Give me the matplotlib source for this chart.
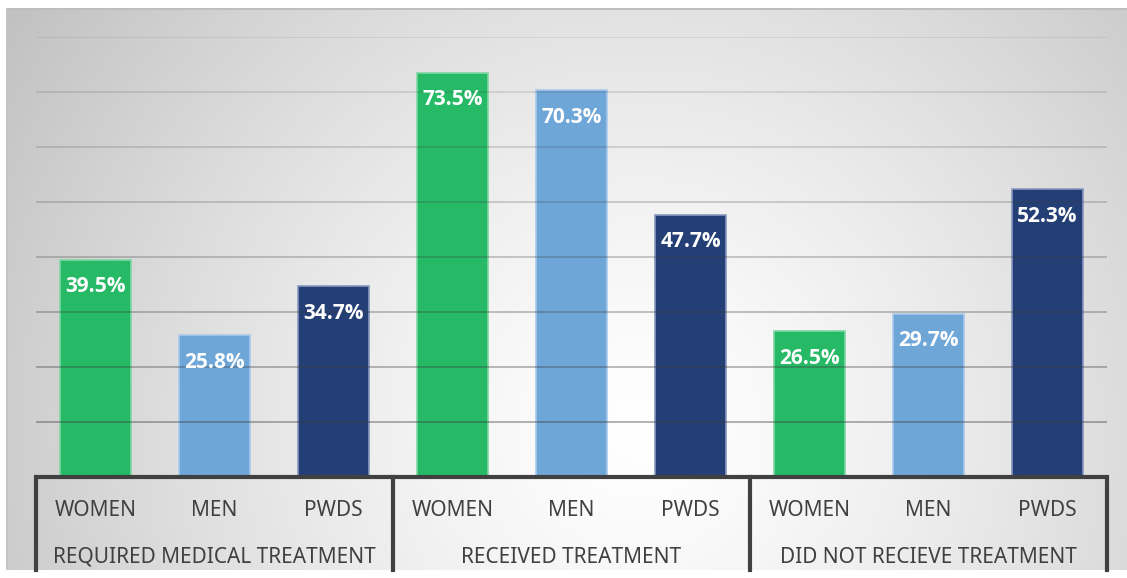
import numpy as np
import matplotlib.pyplot as plt

groups = ["REQUIRED MEDICAL TREATMENT", "RECEIVED TREATMENT", "DID NOT RECIEVE TREATMENT"]
categories = ["WOMEN", "MEN", "PWDS"]
required = [39.5, 25.8, 34.7]
received = [73.5, 70.3, 47.7]
not_received = [26.5, 29.7, 52.3]

colors = ["#26b966", "#6fa6d8", "#243e76"]
edges = ["#7fd6a4", "#a9c9ec", "#8797c0"]

plt.rcParams['font.family'] = ['Noto Sans', 'DejaVu Sans']

W, H = 1127, 578
fig = plt.figure(figsize=(W / 100, H / 100), dpi=100)

# radial grey-to-white backdrop for the chart area
bg = fig.add_axes([6 / W, 8 / H, 1121 / W, 562 / H], zorder=0)
gx, gy = np.meshgrid(np.linspace(6, 1127, 400), np.linspace(8, 570, 200))
r = np.sqrt(((gx - 640) / 720) ** 2 + ((gy - 430) / 720) ** 2)
shade = 255 - 58 * np.clip(r, 0, 1.2) ** 1.3
img = np.clip(shade, 0, 255) / 255
bg.imshow(np.dstack([img, img, img]), aspect='auto', extent=[0, 1, 0, 1], origin='upper')
bg.plot([0, 1], [1, 1], color="#bdbdbd", lw=2, transform=bg.transAxes)
bg.plot([0, 0], [0, 1], color="#c4c4c4", lw=2, transform=bg.transAxes)
bg.set_axis_off()

ax = fig.add_axes([36 / W, 101 / H, 1071 / W, 440 / H], zorder=1)
ax.patch.set_alpha(0)

values = required + received + not_received
x = np.arange(len(values))
for i, v in enumerate(values):
    k = i % 3
    ax.bar(x[i], v, width=0.6, color=colors[k], edgecolor=edges[k], linewidth=1.2, zorder=2)
    ax.annotate(f"{v:.1f}%", (x[i], v), xytext=(0, -19.5), textcoords="offset points",
                ha="center", va="center", color="white", fontsize=15, fontweight="bold",
                family=["Open Sans", "DejaVu Sans"], zorder=4)

ax.set_xlim(-0.5, len(values) - 0.5)
ax.set_ylim(0, 80)

# gridlines fade out toward the top
for g in range(10, 81, 10):
    a = 0.42 - 0.32 * (g - 10) / 70
    ax.axhline(g, color="#3c3c3c", alpha=a, lw=1.3, zorder=3)

for s in ax.spines.values():
    s.set_visible(False)
ax.set_xticks([])
ax.set_yticks([])

ax.plot([-0.5, 8.5], [0, 0], color="#404040", lw=3, zorder=5, clip_on=False, solid_capstyle="butt")
bottom = -0.211 * 80
for b in [-0.5, 2.5, 5.5, 8.5]:
    ax.plot([b, b], [0, bottom], color="#404040", lw=3, clip_on=False, zorder=5)

for i in x:
    ax.text(i, -0.075 * 80, categories[i % 3], ha="center", va="center",
            fontsize=15, color="#404040")
for j, g in enumerate(groups):
    ax.text(3 * j + 1, -0.182 * 80, g, ha="center", va="center",
            fontsize=15, color="#404040")

fig.savefig("out.png", dpi=100)
